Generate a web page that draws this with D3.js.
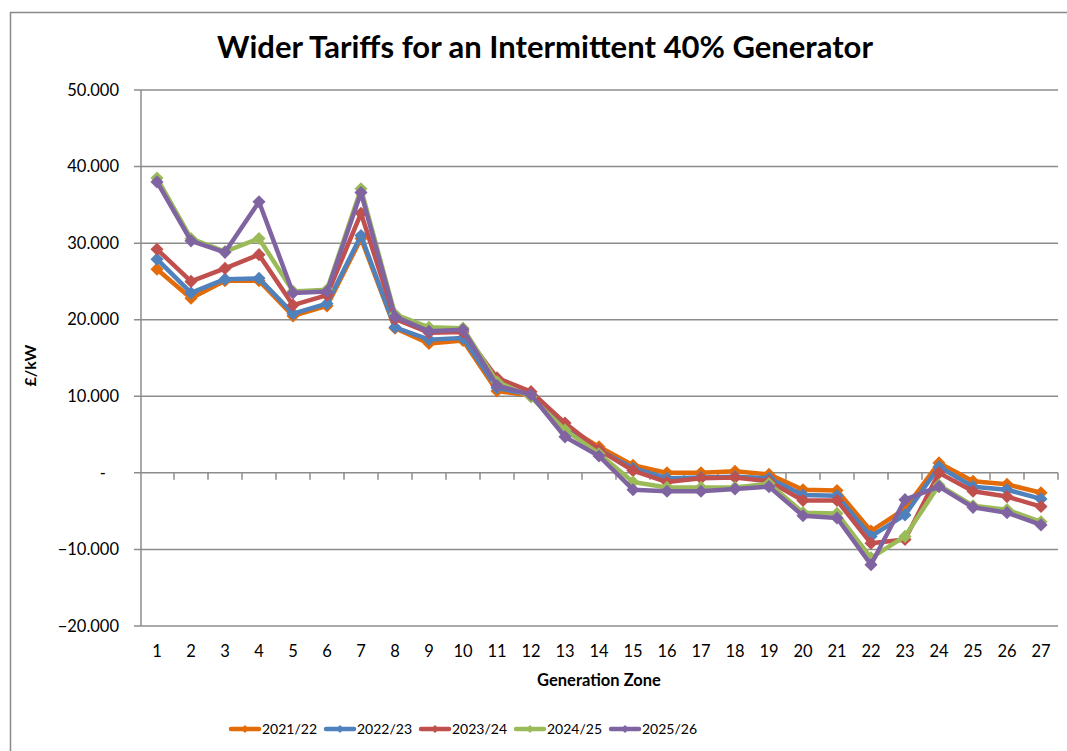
<!DOCTYPE html>
<html>
<head>
<meta charset="utf-8">
<script src="https://cdn.jsdelivr.net/npm/d3@7"></script>
<style>
  body { margin: 0; background: #fff; }
  svg text { font-family: Lato, "Open Sans", sans-serif; fill: #000; }
</style>
</head>
<body>
<div id="chart"></div>
<script>
// zones along the x axis
const zones = d3.range(1, 28);

const seriesNames = ["2021/22", "2022/23", "2023/24", "2024/25", "2025/26"];
const seriesColors = ["#E36C09", "#4F81BD", "#C0504D", "#9BBB59", "#8064A2"];

// £/kW per zone
const tariff2122 = [26.6, 22.8, 25.1, 25.1, 20.5, 21.8, 30.6, 18.9, 16.9, 17.3, 10.7, 10.1, 6.1, 3.4, 1.0, 0.0, 0.0, 0.2, -0.2, -2.2, -2.3, -7.6, -4.7, 1.3, -1.1, -1.5, -2.6];
const tariff2223 = [27.9, 23.5, 25.3, 25.4, 20.8, 22.1, 31.0, 19.0, 17.4, 17.6, 11.1, 10.2, 6.0, 3.0, 0.6, -0.7, -0.6, -0.5, -0.7, -2.9, -3.0, -8.3, -5.5, 0.8, -1.8, -2.2, -3.4];
const tariff2324 = [29.2, 25.0, 26.7, 28.5, 21.9, 23.2, 33.9, 20.1, 18.3, 18.4, 12.4, 10.6, 6.5, 3.0, 0.3, -1.2, -0.7, -0.6, -1.1, -3.6, -3.6, -9.2, -8.7, 0.0, -2.4, -3.1, -4.4];
const tariff2425 = [38.5, 30.6, 28.9, 30.6, 23.7, 23.9, 37.1, 20.7, 19.0, 18.9, 11.9, 9.9, 5.6, 2.5, -1.2, -1.9, -1.9, -1.9, -1.4, -5.2, -5.3, -11.1, -8.3, -1.6, -4.3, -4.8, -6.4];
const tariff2526 = [38.0, 30.3, 28.8, 35.4, 23.5, 23.7, 36.6, 20.4, 18.5, 18.7, 11.4, 10.2, 4.7, 2.2, -2.2, -2.4, -2.4, -2.1, -1.8, -5.6, -5.9, -12.0, -3.5, -1.8, -4.5, -5.2, -6.8];

const yTicks = [50, 40, 30, 20, 10, 0, -10, -20];

const seriesValues = [tariff2122, tariff2223, tariff2324, tariff2425, tariff2526];

const width = 1067, height = 751;
const margin = { top: 90, right: 9, bottom: 125, left: 140 };

const svg = d3.select("#chart").append("svg")
  .attr("width", width)
  .attr("height", height);

// outer chart frame (only top and left edges are visible)
svg.append("rect")
  .attr("x", 10.5).attr("y", 12.5)
  .attr("width", width + 20).attr("height", height + 20)
  .attr("fill", "none")
  .attr("stroke", "#898989")
  .attr("stroke-width", 1.5);

const x = d3.scaleBand()
  .domain(zones)
  .range([margin.left, width - margin.right]);

const y = d3.scaleLinear()
  .domain([-20, 50])
  .range([height - margin.bottom, margin.top]);

const fmt = d3.format(",.3f");

// gridlines
svg.append("g")
  .selectAll("line")
  .data(yTicks)
  .join("line")
  .attr("x1", margin.left - 6)
  .attr("x2", width - margin.right)
  .attr("y1", d => y(d))
  .attr("y2", d => y(d))
  .attr("stroke", "#8c8c8c")
  .attr("stroke-width", 1.5);

// y axis line
svg.append("line")
  .attr("x1", margin.left + 1).attr("x2", margin.left + 1)
  .attr("y1", y(50)).attr("y2", y(-20))
  .attr("stroke", "#8c8c8c")
  .attr("stroke-width", 1.5);

// y labels
svg.append("g")
  .selectAll("text")
  .data(yTicks)
  .join("text")
  .attr("x", d => d === 0 ? 106 : 119)
  .attr("y", d => y(d))
  .attr("dy", "0.35em")
  .attr("text-anchor", "end")
  .style("font-size", "16.5px")
  .text(d => d === 0 ? "-" : fmt(d));

// x axis ticks at band edges on the zero line
const edges = zones.map(z => x(z)).concat([x(zones[zones.length - 1]) + x.bandwidth()]);
svg.append("g")
  .selectAll("line")
  .data(edges.slice(1))
  .join("line")
  .attr("x1", d => d)
  .attr("x2", d => d)
  .attr("y1", y(0))
  .attr("y2", y(0) + 7)
  .attr("stroke", "#8c8c8c")
  .attr("stroke-width", 1.5);

// x labels
svg.append("g")
  .selectAll("text")
  .data(zones)
  .join("text")
  .attr("x", d => x(d) + x.bandwidth() / 2)
  .attr("y", 657)
  .attr("text-anchor", "middle")
  .style("font-size", "16.5px")
  .text(d => d);

// lines and markers
const line = d3.line()
  .x((d, i) => x(zones[i]) + x.bandwidth() / 2)
  .y(d => y(d));

const diamond = d3.symbol().type(d3.symbolDiamond2).size(110);

seriesValues.forEach(function(vals, s) {
  let g = svg.append("g");
  g.append("path")
    .datum(vals)
    .attr("d", line)
    .attr("fill", "none")
    .attr("stroke", seriesColors[s])
    .attr("stroke-width", 4.5)
    .attr("stroke-linejoin", "round");

  g.selectAll("path.mk")
    .data(vals)
    .join("path")
    .attr("class", "mk")
    .attr("d", diamond)
    .attr("transform", (d, i) => "translate(" + (x(zones[i]) + x.bandwidth() / 2) + "," + y(d) + ")")
    .attr("fill", seriesColors[s]);
});

// title
svg.append("text")
  .attr("x", 545)
  .attr("y", 58)
  .attr("text-anchor", "middle")
  .style("font-size", "31px")
  .style("font-weight", "bold")
  .text("Wider Tariffs for an Intermittent 40% Generator");

// axis titles
svg.append("text")
  .attr("transform", "translate(36," + y(14) + ") rotate(-90)")
  .attr("text-anchor", "middle")
  .style("font-size", "16px")
  .style("font-weight", "bold")
  .text("£/kW");

svg.append("text")
  .attr("x", 599)
  .attr("y", 686)
  .attr("text-anchor", "middle")
  .style("font-size", "16.5px")
  .style("font-weight", "bold")
  .text("Generation Zone");

// legend
const legend = svg.append("g")
  .selectAll("g")
  .data(seriesNames)
  .join("g")
  .attr("transform", (d, i) => "translate(" + (231 + i * 95) + ",729)");

legend.append("line")
  .attr("x1", 0).attr("x2", 28)
  .attr("stroke", (d, i) => seriesColors[i])
  .attr("stroke-width", 4.5)
  .attr("stroke-linecap", "round");

legend.append("path")
  .attr("d", d3.symbol().type(d3.symbolDiamond2).size(40))
  .attr("transform", "translate(14,0)")
  .attr("fill", (d, i) => seriesColors[i]);

legend.append("text")
  .attr("x", 31)
  .attr("dy", "0.35em")
  .style("font-size", "14px")
  .text(d => d);
</script>
</body>
</html>
